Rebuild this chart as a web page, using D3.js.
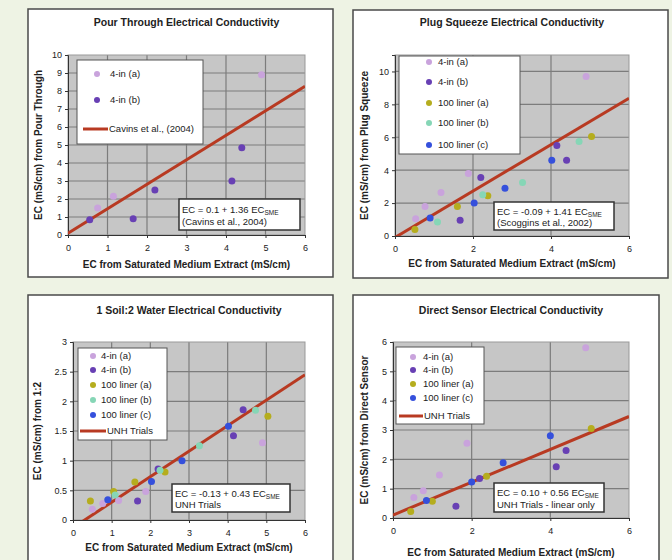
<!DOCTYPE html>
<html>
<head>
<meta charset="utf-8">
<script src="https://cdn.jsdelivr.net/npm/d3@7"></script>
<style>
  body { margin: 0; background: #eef3e4; }
  svg { display: block; font-family: "Liberation Sans", Arial, sans-serif; }
</style>
</head>
<body>
<div id="chart"></div>
<script>
// series names
const seriesNames = ["4-in (a)", "4-in (b)", "100 liner (a)", "100 liner (b)", "100 liner (c)"];
const seriesColors = ["#c9a3dc", "#6840b4", "#b5ad1e", "#86d6b6", "#3550dc"];

// [EC saturated medium extract, EC method]
const pourA = [[0.75, 1.5], [1.15, 2.15], [4.9, 8.9]];
const pourB = [[0.55, 0.85], [1.65, 0.9], [2.2, 2.5], [4.15, 3.0], [4.4, 4.85]];

const plugA = [[0.53, 1.05], [0.77, 1.8], [1.18, 2.65], [1.88, 3.8], [4.9, 9.7]];
const plugB = [[1.67, 0.95], [2.2, 3.55], [4.15, 5.5], [4.4, 4.6]];
const plug100A = [[0.51, 0.4], [1.6, 1.8], [2.38, 2.45], [5.04, 6.05]];
const plug100B = [[1.09, 0.85], [2.25, 2.5], [3.27, 3.25], [4.72, 5.75]];
const plug100C = [[0.9, 1.1], [2.03, 2.0], [2.82, 2.9], [4.02, 4.6]];

const soilA = [[0.5, 0.18], [0.77, 0.28], [1.18, 0.33], [1.88, 0.48], [4.9, 1.3]];
const soilB = [[1.67, 0.32], [2.2, 0.86], [4.15, 1.42], [4.4, 1.86]];
const soil100A = [[0.45, 0.32], [1.05, 0.48], [1.6, 0.64], [2.38, 0.81], [5.04, 1.75]];
const soil100B = [[1.09, 0.42], [2.25, 0.84], [3.27, 1.25], [4.72, 1.85]];
const soil100C = [[0.9, 0.34], [2.03, 0.65], [2.82, 1.0], [4.02, 1.58]];

const sensorA = [[0.53, 0.7], [0.77, 0.93], [1.18, 1.47], [1.88, 2.55], [4.9, 5.8]];
const sensorB = [[1.6, 0.4], [2.2, 1.35], [4.15, 1.75], [4.4, 2.3]];
const sensor100A = [[0.45, 0.22], [1.0, 0.57], [2.38, 1.42], [5.04, 3.05]];
const sensor100C = [[0.85, 0.6], [2.0, 1.23], [2.8, 1.88], [4.0, 2.8]];

// regression lines [intercept, slope]
const pourFit = [0.1, 1.36];
const plugFit = [-0.09, 1.41];
const soilFit = [-0.13, 0.43];
const sensorFit = [0.10, 0.56];

const xLabel = "EC from Saturated Medium Extract (mS/cm)";

const panels = [
  {
    title: "Pour Through Electrical Conductivity",
    yLabel: "EC (mS/cm) from Pour Through",
    box: {x: 28, y: 9, w: 305, h: 268},
    plot: {l: 68, t: 55, r: 305, b: 235},
    xMax: 6, xStep: 1, yMax: 10, yStep: 1,
    series: [[0, pourA], [1, pourB]],
    fit: pourFit, fitName: "Cavins et al., (2004)",
    legend: {x: 77, y: 60, w: 126, h: 84, rows: [74, 100], lineRow: 129, mx: 97, tx: 110, lx0: 83, lx1: 108},
    eq: {x: 179, y: 199, w: 121, h: 31, main: "EC = 0.1 + 1.36 EC", note: "(Cavins et al., 2004)"},
    titleY: 26, xLabelY: 268, yLabelX: 42
  },
  {
    title: "Plug Squeeze Electrical Conductivity",
    yLabel: "EC (mS/cm) from Plug Squeeze",
    box: {x: 353, y: 10, w: 315, h: 268},
    plot: {l: 395, t: 55, r: 629, b: 236},
    xMax: 6, xStep: 2, yMax: 11, yStep: 2,
    series: [[0, plugA], [1, plugB], [2, plug100A], [3, plug100B], [4, plug100C]],
    fit: plugFit, fitName: null,
    legend: {x: 399, y: 56, w: 121, h: 98, rows: [62, 82, 103, 123, 145], mx: 429, tx: 438},
    eq: {x: 494, y: 202, w: 120, h: 28, main: "EC = -0.09 + 1.41 EC", note: "(Scoggins et al., 2002)"},
    titleY: 26, xLabelY: 267, yLabelX: 368
  },
  {
    title: "1 Soil:2 Water Electrical Conductivity",
    yLabel: "EC (mS/cm) from 1:2",
    box: {x: 28, y: 295, w: 305, h: 275},
    plot: {l: 73, t: 342, r: 305, b: 520},
    xMax: 6, xStep: 1, yMax: 3, yStep: 0.5,
    series: [[0, soilA], [1, soilB], [2, soil100A], [3, soil100B], [4, soil100C]],
    fit: soilFit, fitName: "UNH Trials",
    legend: {x: 78, y: 348, w: 89, h: 92, rows: [356, 370, 385, 400, 415], lineRow: 431, mx: 93, tx: 101, lx0: 80, lx1: 106},
    eq: {x: 172, y: 484, w: 118, h: 28, main: "EC = -0.13 + 0.43 EC", note: "UNH Trials"},
    titleY: 314, xLabelY: 551, yLabelX: 41
  },
  {
    title: "Direct Sensor Electrical Conductivity",
    yLabel: "EC (mS/cm) from Direct Sensor",
    box: {x: 353, y: 295, w: 306, h: 275},
    plot: {l: 393, t: 342, r: 629, b: 518},
    xMax: 6, xStep: 2, yMax: 6, yStep: 1,
    series: [[0, sensorA], [1, sensorB], [2, sensor100A], [4, sensor100C]],
    fit: sensorFit, fitName: "UNH Trials",
    legend: {x: 396, y: 347, w: 88, h: 77, rows: [357, 370, 384, 398], lineRow: 416, mx: 413, tx: 423, lx0: 399, lx1: 423},
    eq: {x: 494, y: 483, w: 110, h: 29, main: "EC = 0.10 + 0.56 EC", note: "UNH Trials - linear only"},
    titleY: 314, xLabelY: 556, yLabelX: 368
  }
];

const svg = d3.select("#chart").append("svg")
  .attr("width", 672)
  .attr("height", 560);

svg.append("rect").attr("width", 672).attr("height", 560).attr("fill", "#eef3e4");

const fmt = d => String(+d.toFixed(1));

panels.forEach((p, i) => {
  const g = svg.append("g");

  // panel frame
  g.append("rect")
    .attr("x", p.box.x).attr("y", p.box.y)
    .attr("width", p.box.w).attr("height", p.box.h)
    .attr("fill", "#fff").attr("stroke", "#4a4a4a").attr("stroke-width", 1.5);

  const x = d3.scaleLinear().domain([0, p.xMax]).range([p.plot.l, p.plot.r]);
  const y = d3.scaleLinear().domain([0, p.yMax]).range([p.plot.b, p.plot.t]);

  // plot area
  g.append("rect")
    .attr("x", p.plot.l).attr("y", p.plot.t)
    .attr("width", p.plot.r - p.plot.l).attr("height", p.plot.b - p.plot.t)
    .attr("fill", "#c6c6c6");

  const xTicks = d3.range(0, p.xMax + 1e-9, p.xStep);
  const yTicks = d3.range(0, p.yMax + 1e-9, p.yStep);

  // grid lines
  g.append("g").selectAll("line").data(yTicks.filter(v => v > 0 && v < p.yMax)).join("line")
    .attr("x1", p.plot.l).attr("x2", p.plot.r)
    .attr("y1", d => y(d)).attr("y2", d => y(d))
    .attr("stroke", "#7c7c7c").attr("stroke-width", 1.2);
  g.append("g").selectAll("line").data(xTicks.filter(v => v > 0 && v < p.xMax)).join("line")
    .attr("y1", p.plot.t).attr("y2", p.plot.b)
    .attr("x1", d => x(d)).attr("x2", d => x(d))
    .attr("stroke", "#7c7c7c").attr("stroke-width", 1.2);

  g.append("rect")
    .attr("x", p.plot.l).attr("y", p.plot.t)
    .attr("width", p.plot.r - p.plot.l).attr("height", p.plot.b - p.plot.t)
    .attr("fill", "none").attr("stroke", "#999");

  // axes
  const xAxis = d3.axisBottom(x).tickValues(xTicks).tickSize(3).tickFormat(fmt);
  const yAxis = d3.axisLeft(y).tickValues(yTicks).tickSize(3).tickFormat(fmt);
  const gx = g.append("g").attr("transform", `translate(0,${p.plot.b})`).call(xAxis);
  const gy = g.append("g").attr("transform", `translate(${p.plot.l},0)`).call(yAxis);
  [gx, gy].forEach(a => {
    a.select(".domain").attr("stroke", "#333");
    a.selectAll(".tick line").attr("stroke", "#333");
    a.selectAll("text").attr("font-size", 9).attr("fill", "#222")
      .attr("font-family", "Liberation Sans, Arial, sans-serif");
  });
  gx.selectAll("text").attr("dy", "1.1em");

  const clipId = "clip" + i;
  g.append("clipPath").attr("id", clipId).append("rect")
    .attr("x", p.plot.l).attr("y", p.plot.t)
    .attr("width", p.plot.r - p.plot.l).attr("height", p.plot.b - p.plot.t);

  // legend box (sits over the grid)
  const L = p.legend;
  g.append("rect")
    .attr("x", L.x).attr("y", L.y).attr("width", L.w).attr("height", L.h)
    .attr("fill", "#fff").attr("stroke", "#555").attr("stroke-width", 1);
  const lg = g.append("g");
  const legClip = "legclip" + i;
  g.append("clipPath").attr("id", legClip).append("rect")
    .attr("x", L.x).attr("y", L.y).attr("width", L.w - 1).attr("height", L.h);
  lg.attr("clip-path", `url(#${legClip})`);
  p.series.forEach(([si], k) => {
    lg.append("circle")
      .attr("cx", L.mx).attr("cy", L.rows[k]).attr("r", 3)
      .attr("fill", seriesColors[si]);
    lg.append("text")
      .attr("x", L.tx).attr("y", L.rows[k]).attr("dy", "0.35em")
      .attr("font-size", 9.5).attr("fill", "#222")
      .text(seriesNames[si]);
  });
  if (p.fitName) {
    lg.append("line")
      .attr("x1", L.lx0).attr("x2", L.lx1)
      .attr("y1", L.lineRow).attr("y2", L.lineRow)
      .attr("stroke", "#b83a22").attr("stroke-width", 3);
    lg.append("text")
      .attr("x", L.lx1 + 1).attr("y", L.lineRow).attr("dy", "0.35em")
      .attr("font-size", 9.5).attr("fill", "#222")
      .text(p.fitName);
  }

  // fit line
  const line = d3.line().x(d => x(d)).y(d => y(p.fit[0] + p.fit[1] * d));
  g.append("path")
    .attr("clip-path", `url(#${clipId})`)
    .attr("d", line([0, p.xMax]))
    .attr("fill", "none").attr("stroke", "#b83a22").attr("stroke-width", 3);

  // points
  p.series.forEach(([si, pts]) => {
    g.append("g").selectAll("circle").data(pts).join("circle")
      .attr("cx", d => x(d[0])).attr("cy", d => y(d[1])).attr("r", 3.5)
      .attr("fill", seriesColors[si]);
  });

  // equation box
  const E = p.eq;
  g.append("rect")
    .attr("x", E.x).attr("y", E.y).attr("width", E.w).attr("height", E.h)
    .attr("fill", "#fff").attr("stroke", "#333").attr("stroke-width", 1.5);
  const et = g.append("text")
    .attr("x", E.x + 3).attr("y", E.y + E.h * 0.33).attr("dy", "0.35em")
    .attr("font-size", 9.5).attr("fill", "#222");
  et.append("tspan").text(E.main);
  et.append("tspan").attr("font-size", 6.5).attr("dy", "0.35em").text("SME");
  g.append("text")
    .attr("x", E.x + 3).attr("y", E.y + E.h * 0.74).attr("dy", "0.35em")
    .attr("font-size", 9.5).attr("fill", "#222")
    .text(E.note);

  // titles
  const cx = (p.plot.l + p.plot.r) / 2;
  g.append("text")
    .attr("x", cx).attr("y", p.titleY).attr("text-anchor", "middle")
    .attr("font-size", 10.5).attr("font-weight", "bold").attr("fill", "#222")
    .text(p.title);
  g.append("text")
    .attr("x", cx).attr("y", p.xLabelY).attr("text-anchor", "middle")
    .attr("font-size", 10).attr("font-weight", "bold").attr("fill", "#222")
    .text(xLabel);
  g.append("text")
    .attr("transform", `translate(${p.yLabelX},${(p.plot.t + p.plot.b) / 2}) rotate(-90)`)
    .attr("text-anchor", "middle")
    .attr("font-size", 10).attr("font-weight", "bold").attr("fill", "#222")
    .text(p.yLabel);
});
</script>
</body>
</html>
